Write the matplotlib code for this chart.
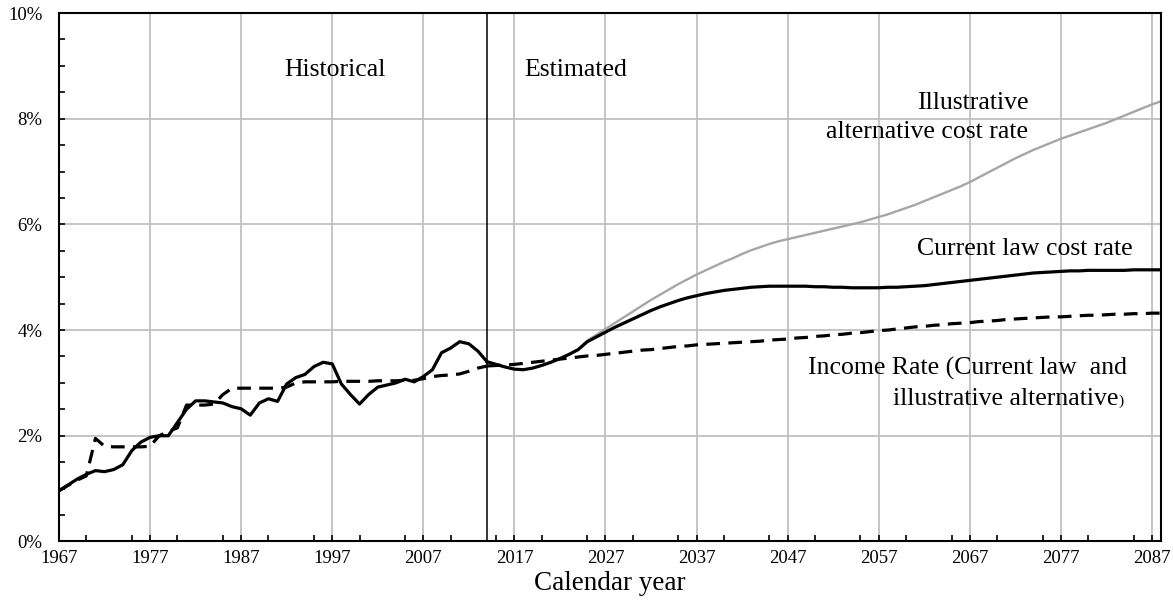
import matplotlib
matplotlib.use("Agg")
import matplotlib.pyplot as plt
from matplotlib.ticker import MultipleLocator, FuncFormatter

# ---------------- data ----------------
hist_years = list(range(1967, 2015))
hist_cost = [0.96, 1.07, 1.18, 1.27, 1.34, 1.32, 1.36, 1.45, 1.72, 1.88,
             1.97, 2.00, 2.00, 2.25, 2.50, 2.66, 2.66, 2.64, 2.62, 2.55,
             2.51, 2.39, 2.62, 2.70, 2.65, 2.98, 3.10, 3.16, 3.31, 3.39,
             3.36, 2.98, 2.78, 2.60, 2.78, 2.92, 2.96, 3.00, 3.07, 3.02,
             3.12, 3.25, 3.57, 3.66, 3.78, 3.74, 3.60, 3.40]
hist_income = [0.96, 1.06, 1.16, 1.24, 1.95, 1.80, 1.79, 1.79, 1.79, 1.79,
               1.80, 2.00, 2.08, 2.15, 2.58, 2.58, 2.58, 2.60, 2.78, 2.90,
               2.90, 2.90, 2.90, 2.90, 2.90, 2.92, 3.00, 3.02, 3.02, 3.02,
               3.02, 3.03, 3.03, 3.03, 3.03, 3.04, 3.04, 3.04, 3.05, 3.05,
               3.08, 3.12, 3.14, 3.15, 3.17, 3.22, 3.28, 3.32]

proj_years = list(range(2014, 2089))
proj_cost = [3.40, 3.35, 3.30, 3.26, 3.25, 3.28, 3.33, 3.39, 3.46, 3.54,
             3.63, 3.78, 3.87, 3.96, 4.05, 4.13, 4.21, 4.29, 4.37, 4.44,
             4.50, 4.56, 4.61, 4.65, 4.69, 4.72, 4.75, 4.77, 4.79, 4.81,
             4.82, 4.83, 4.83, 4.83, 4.83, 4.83, 4.82, 4.82, 4.81, 4.81,
             4.80, 4.80, 4.80, 4.80, 4.81, 4.81, 4.82, 4.83, 4.84, 4.86,
             4.88, 4.90, 4.92, 4.94, 4.96, 4.98, 5.00, 5.02, 5.04, 5.06,
             5.08, 5.09, 5.10, 5.11, 5.12, 5.12, 5.13, 5.13, 5.13, 5.13,
             5.13, 5.14, 5.14, 5.14, 5.14]
proj_income = [3.32, 3.33, 3.34, 3.35, 3.37, 3.39, 3.41, 3.43, 3.45, 3.47,
               3.49, 3.51, 3.52, 3.54, 3.56, 3.58, 3.60, 3.62, 3.63, 3.65,
               3.67, 3.69, 3.70, 3.72, 3.73, 3.74, 3.75, 3.76, 3.77, 3.78,
               3.79, 3.81, 3.82, 3.83, 3.85, 3.86, 3.88, 3.89, 3.91, 3.92,
               3.94, 3.95, 3.97, 3.99, 4.00, 4.02, 4.04, 4.06, 4.07, 4.09,
               4.10, 4.12, 4.13, 4.14, 4.16, 4.17, 4.18, 4.20, 4.21, 4.22,
               4.23, 4.24, 4.25, 4.25, 4.26, 4.27, 4.28, 4.28, 4.29, 4.30,
               4.30, 4.31, 4.31, 4.32, 4.32]

alt_years = list(range(2024, 2089))
alt_cost = [3.63, 3.80, 3.91, 4.02, 4.13, 4.24, 4.35, 4.46, 4.57, 4.67,
            4.77, 4.87, 4.96, 5.05, 5.13, 5.21, 5.29, 5.36, 5.44, 5.51,
            5.57, 5.63, 5.68, 5.72, 5.76, 5.80, 5.84, 5.88, 5.92, 5.96,
            6.00, 6.04, 6.09, 6.14, 6.19, 6.25, 6.31, 6.37, 6.44, 6.51,
            6.58, 6.65, 6.72, 6.80, 6.89, 6.98, 7.07, 7.16, 7.25, 7.33,
            7.41, 7.48, 7.55, 7.62, 7.68, 7.74, 7.80, 7.86, 7.92, 7.99,
            8.06, 8.13, 8.20, 8.27, 8.33]

divider_year = 2014
x_major = list(range(1967, 2088, 10))

# ---------------- figure ----------------
plt.rcParams['font.family'] = ['Liberation Serif', 'DejaVu Serif']
fig = plt.figure(figsize=(11.73, 6.08), dpi=100)
ax = fig.add_axes([0.0503, 0.1095, 0.9395, 0.8691])

ax.set_xlim(1967, 2088)
ax.set_ylim(0, 10)

# grid
for xv in x_major[1:]:
    ax.axvline(xv, color='#c0c0c0', lw=1.3, zorder=0)
for yv in [2, 4, 6, 8]:
    ax.axhline(yv, color='#c0c0c0', lw=1.3, zorder=0)

dash = (0, (4.3, 2.6))
ax.plot(alt_years, alt_cost, color='#a6a6a6', lw=1.7, zorder=2)
ax.plot(hist_years, hist_income, color='black', lw=2.3, linestyle=dash, zorder=3)
ax.plot(proj_years, proj_income, color='black', lw=2.3, linestyle=dash, zorder=3)
ax.plot(hist_years, hist_cost, color='black', lw=2.3, zorder=4,
        solid_joinstyle='round')
ax.plot(proj_years, proj_cost, color='black', lw=2.3, zorder=4,
        solid_joinstyle='round')

ax.axvline(divider_year, color='black', lw=1.1, zorder=5)

# spines
for s in ax.spines.values():
    s.set_color('black')
    s.set_linewidth(1.5)

# ticks
ax.set_xticks(x_major)
ax.xaxis.set_minor_locator(MultipleLocator(5))
ax.yaxis.set_major_locator(MultipleLocator(2))
ax.yaxis.set_minor_locator(MultipleLocator(0.5))
ax.yaxis.set_major_formatter(FuncFormatter(lambda v, p: f"{v:.0f}%"))
ax.tick_params(axis='both', which='both', direction='in', length=4, width=1.2,
               colors='black', labelsize=13.5)
ax.tick_params(axis='x', which='major', pad=6)
ax.tick_params(axis='y', which='major', pad=12)
ax.tick_params(axis='y', which='both', left=True, right=False)
ax.tick_params(axis='x', which='both', bottom=True, top=False)

ax.set_xlabel("Calendar year", fontsize=19.5, labelpad=3)

# annotations
fs = 18.5
ax.text(1997.3, 8.80, "Historical", fontsize=fs, ha='center', va='baseline')
ax.text(2018.1, 8.80, "Estimated", fontsize=fs, ha='left', va='baseline')
ax.text(2073.4, 8.18, "Illustrative", fontsize=fs, ha='right', va='baseline')
ax.text(2073.4, 7.63, "alternative cost rate", fontsize=fs, ha='right', va='baseline')
ax.text(2084.9, 5.42, "Current law cost rate", fontsize=fs, ha='right', va='baseline')
ax.text(2084.3, 3.16, "Income Rate (Current law  and", fontsize=fs, ha='right', va='baseline')
ax.text(2083.3, 2.58, "illustrative alternative", fontsize=fs, ha='right', va='baseline')
ax.text(2083.3, 2.58, ")", fontsize=11, ha='left', va='baseline')

fig.savefig("out.png", dpi=100)
